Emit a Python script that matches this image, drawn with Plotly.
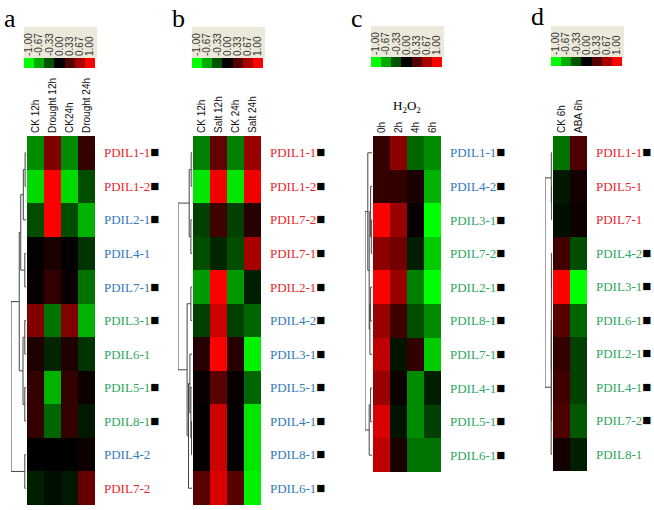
import plotly.graph_objects as go

W, H = 654, 510
RED, BLUE, GREEN = "#e6262b", "#3579bd", "#2ea85c"

# ---------------- data ----------------
a_cols = ["CK 12h", "Drought 12h", "CK24h", "Drought 24h"]
a_rows = ["PDIL1-1", "PDIL1-2", "PDIL2-1", "PDIL4-1", "PDIL7-1", "PDIL3-1",
          "PDIL6-1", "PDIL5-1", "PDIL8-1", "PDIL4-2", "PDIL7-2"]
a_grp = ["r", "r", "b", "b", "b", "g", "g", "g", "g", "b", "r"]
a_mark = [1, 1, 1, 0, 1, 1, 0, 1, 1, 0, 0]
a_z = [[-0.55, 0.50, -0.55, 0.20],
       [-0.85, 1.00, -0.85, -0.30],
       [-0.30, 1.00, -0.30, -0.70],
       [0.02, 0.10, 0.02, -0.20],
       [0.03, 0.20, 0.03, -0.45],
       [0.50, -0.45, 0.50, -0.70],
       [0.12, -0.15, 0.12, -0.20],
       [0.20, -0.70, 0.20, 0.05],
       [0.20, -0.40, 0.20, -0.10],
       [0.00, 0.00, 0.00, 0.05],
       [-0.12, -0.05, -0.10, 0.40]]
a_link = [(0, 1, 0.06), (11, 2, 0.18), (3, 4, 0.08), (12, 13, 0.35),
          (5, 6, 0.08), (7, 8, 0.08), (15, 16, 0.2), (14, 17, 0.45),
          (9, 10, 0.08), (18, 19, 1.0)]

b_cols = ["CK 12h", "Salt 12h", "CK 24h", "Salt 24h"]
b_rows = ["PDIL1-1", "PDIL1-2", "PDIL7-2", "PDIL7-1", "PDIL2-1", "PDIL4-2",
          "PDIL3-1", "PDIL5-1", "PDIL4-1", "PDIL8-1", "PDIL6-1"]
b_grp = ["r", "r", "r", "r", "r", "b", "b", "b", "b", "b", "b"]
b_mark = [1] * 11
b_z = [[-0.50, 0.40, -0.50, 0.60],
       [-0.90, 0.95, -0.90, 0.95],
       [-0.25, 0.25, -0.25, 0.15],
       [-0.30, -0.15, -0.30, 0.65],
       [-0.60, 1.00, -0.60, -0.12],
       [-0.25, 0.80, -0.25, -0.40],
       [0.15, 1.00, 0.15, -0.95],
       [0.03, 0.35, 0.03, -0.40],
       [0.02, 0.80, 0.02, -0.90],
       [0.02, 0.80, 0.02, -0.90],
       [0.35, 0.85, 0.35, -0.95]]
b_link = [(0, 1, 0.06), (2, 3, 0.08), (11, 12, 0.2), (4, 5, 0.08),
          (8, 9, 0.03), (7, 15, 0.08), (6, 16, 0.15), (17, 10, 0.25),
          (14, 18, 0.35), (13, 19, 1.0)]

c_cols = ["0h", "2h", "4h", "6h"]
c_rows = ["PDIL1-1", "PDIL4-2", "PDIL3-1", "PDIL7-2", "PDIL2-1", "PDIL8-1",
          "PDIL7-1", "PDIL4-1", "PDIL5-1", "PDIL6-1"]
c_grp = ["b", "b", "g", "g", "g", "g", "g", "g", "g", "g"]
c_mark = [1] * 10
c_z = [[0.20, 0.55, -0.40, -0.55],
       [0.20, 0.20, 0.10, -0.70],
       [1.00, 0.60, 0.03, -1.00],
       [0.55, 0.45, -0.12, -0.80],
       [1.00, 0.60, -0.50, -1.00],
       [0.60, 0.25, -0.30, -0.55],
       [0.75, -0.08, 0.20, -0.80],
       [0.60, 0.05, -0.55, -0.12],
       [0.85, -0.08, -0.55, -0.25],
       [0.75, 0.10, -0.45, -0.45]]
c_link = [(2, 3, 0.1), (1, 10, 0.2), (4, 5, 0.2), (12, 6, 0.3),
          (11, 13, 0.4), (0, 14, 0.6), (7, 8, 0.2), (16, 9, 0.4), (15, 17, 1.0)]

d_cols = ["CK 6h", "ABA 6h"]
d_rows = ["PDIL1-1", "PDIL5-1", "PDIL7-1", "PDIL4-2", "PDIL3-1", "PDIL6-1",
          "PDIL2-1", "PDIL4-1", "PDIL7-2", "PDIL8-1"]
d_grp = ["r", "r", "r", "g", "g", "g", "g", "g", "g", "g"]
d_mark = [1, 0, 0, 1, 1, 1, 1, 1, 1, 0]
d_z = [[-0.45, 0.30],
       [-0.10, 0.08],
       [-0.06, 0.05],
       [0.25, -0.30],
       [1.00, -1.00],
       [0.35, -0.40],
       [0.20, -0.25],
       [0.25, -0.25],
       [0.30, -0.35],
       [0.08, -0.12]]
d_link = [(1, 2, 0.05), (0, 10, 0.1), (5, 6, 0.05), (7, 8, 0.05),
          (12, 13, 0.08), (3, 4, 0.08), (15, 14, 0.1), (16, 9, 0.12), (11, 17, 1.0)]

scale_vals = [-1.0, -0.67, -0.33, 0.0, 0.33, 0.67, 1.0]
scale_text = ["-1.00", "-0.67", "-0.33", "0.00", "0.33", "0.67", "1.00"]

# ---------------- layout geometry (pixels) ----------------
panels = [
    dict(letter="a", lx=10, ly=19, cols=a_cols, rows=a_rows, grp=a_grp, mark=a_mark, z=a_z, link=a_link,
         hx=(27, 95), hy=(136, 505), dx=(11, 26), cb=(24, 95, 58, 68), title=None),
    dict(letter="b", lx=178, ly=19, cols=b_cols, rows=b_rows, grp=b_grp, mark=b_mark, z=b_z, link=b_link,
         hx=(193, 261), hy=(136, 505), dx=(178, 192), cb=(192, 263, 58, 68), title=None),
    dict(letter="c", lx=357, ly=19, cols=c_cols, rows=c_rows, grp=c_grp, mark=c_mark, z=c_z, link=c_link,
         hx=(373, 441), hy=(136, 472), dx=(365, 372), cb=(371, 442, 57, 67),
         title="H<sub>2</sub>O<sub>2</sub>"),
    dict(letter="d", lx=537, ly=17, cols=d_cols, rows=d_rows, grp=d_grp, mark=d_mark, z=d_z, link=d_link,
         hx=(553, 587), hy=(136, 471), dx=(545, 552), cb=(551, 622, 57, 66), title=None),
]

colorscale = [[0.0, "rgb(0,255,0)"], [0.5, "rgb(0,0,0)"], [1.0, "rgb(255,0,0)"]]
gcol = {"r": RED, "b": BLUE, "g": GREEN}


def fx(p):
    return p / W


def fy(p):
    return 1 - p / H


def dendro(n, link):
    pos = {i: float(i) for i in range(n)}
    hgt = {i: 0.0 for i in range(n)}
    xs, ys = [], []
    for k, (a, b, h) in enumerate(link):
        xs += [hgt[a], h, h, hgt[b], None]
        ys += [pos[a], pos[a], pos[b], pos[b], None]
        pos[n + k] = (pos[a] + pos[b]) / 2
        hgt[n + k] = h
    return xs, ys


fig = go.Figure()
layout = dict(width=W, height=H, margin=dict(l=0, r=0, t=0, b=0, pad=0),
              paper_bgcolor="white", plot_bgcolor="white", showlegend=False)
shapes, annotations = [], []

ax = 0
for p in panels:
    n = len(p["rows"])
    hxid, dxid, cxid = ax + 1, ax + 2, ax + 3
    hyid, cyid = ax + 1, ax + 3
    ax += 3
    nm = lambda i: "" if i == 1 else str(i)

    # heatmap
    fig.add_trace(go.Heatmap(z=p["z"], x=list(range(len(p["cols"]))), y=list(range(n)),
                             colorscale=colorscale, zmin=-1, zmax=1, showscale=False,
                             xaxis="x" + nm(hxid), yaxis="y" + nm(hyid), hoverinfo="skip"))
    ticktext = []
    for r, g, m in zip(p["rows"], p["grp"], p["mark"]):
        t = f"<span style='color:{gcol[g]}'>{r}</span>"
        if m:
            t += "<span style='color:black;font-size:15px'>■</span>"
        ticktext.append(t)
    layout["xaxis" + nm(hxid)] = dict(
        domain=[fx(p["hx"][0]), fx(p["hx"][1])], anchor="y" + nm(hyid), side="top",
        range=[-0.5, len(p["cols"]) - 0.5], tickvals=list(range(len(p["cols"]))), ticktext=p["cols"],
        tickangle=-90, ticks="", showgrid=False, zeroline=False, showline=False, automargin=False,
        ticklabelstandoff=2, tickfont=dict(family="Liberation Sans", size=10, color="#111"), fixedrange=True)
    layout["yaxis" + nm(hyid)] = dict(
        domain=[fy(p["hy"][1]), fy(p["hy"][0])], anchor="x" + nm(hxid), side="right",
        range=[n - 0.5, -0.5], tickvals=list(range(n)), ticktext=ticktext, ticks="",
        showgrid=False, zeroline=False, showline=False, ticklabelstandoff=8, automargin=False,
        tickfont=dict(family="Liberation Serif", size=13, color="black"), fixedrange=True)

    # dendrogram
    xs, ys = dendro(n, p["link"])
    fig.add_trace(go.Scatter(x=xs, y=ys, mode="lines", line=dict(color="#444", width=1),
                             xaxis="x" + nm(dxid), yaxis="y" + nm(hyid), hoverinfo="skip"))
    layout["xaxis" + nm(dxid)] = dict(
        domain=[fx(p["dx"][0]), fx(p["dx"][1])], anchor="y" + nm(hyid), range=[1.0, 0.0],
        showticklabels=False, ticks="", showgrid=False, zeroline=False, showline=False,
        automargin=False, fixedrange=True)

    # color scale bar
    x0, x1, y0, y1 = p["cb"]
    shapes.append(dict(type="rect", xref="paper", yref="paper", x0=fx(x0), x1=fx(x1 + 2),
                       y0=fy(y0), y1=fy(y0 - 31), fillcolor="#ece9da", line=dict(width=0), layer="below"))
    fig.add_trace(go.Heatmap(z=[scale_vals], x=list(range(7)), y=[0], colorscale=colorscale,
                             zmin=-1, zmax=1, showscale=False,
                             xaxis="x" + nm(cxid), yaxis="y" + nm(cyid), hoverinfo="skip"))
    layout["xaxis" + nm(cxid)] = dict(
        domain=[fx(x0), fx(x1)], anchor="y" + nm(cyid), side="top", range=[-0.5, 6.5],
        tickvals=list(range(7)), ticktext=scale_text, tickangle=-90, ticks="",
        ticklabelstandoff=1, showgrid=False, zeroline=False, showline=False, automargin=False,
        tickfont=dict(family="Liberation Sans", size=10, color="#333"), fixedrange=True)
    layout["yaxis" + nm(cyid)] = dict(
        domain=[fy(y1), fy(y0)], anchor="x" + nm(cxid), range=[-0.5, 0.5], automargin=False,
        showticklabels=False, ticks="", showgrid=False, zeroline=False, showline=False, fixedrange=True)

    annotations.append(dict(text=p["letter"], x=fx(p["lx"]), y=fy(p["ly"]), xref="paper", yref="paper",
                            showarrow=False, xanchor="center", yanchor="middle",
                            font=dict(family="Liberation Serif", size=26, color="black")))
    if p["title"]:
        annotations.append(dict(text=p["title"], x=fx((p["hx"][0] + p["hx"][1]) / 2), y=fy(117),
                                xref="paper", yref="paper", showarrow=False,
                                xanchor="center", yanchor="bottom",
                                font=dict(family="Liberation Serif", size=13, color="black")))

layout["shapes"] = shapes
layout["annotations"] = annotations
fig.update_layout(**layout)
fig.write_html("out.html", config={"displayModeBar": False},
               post_script="document.body.style.margin='0';document.body.style.overflow='hidden';")
